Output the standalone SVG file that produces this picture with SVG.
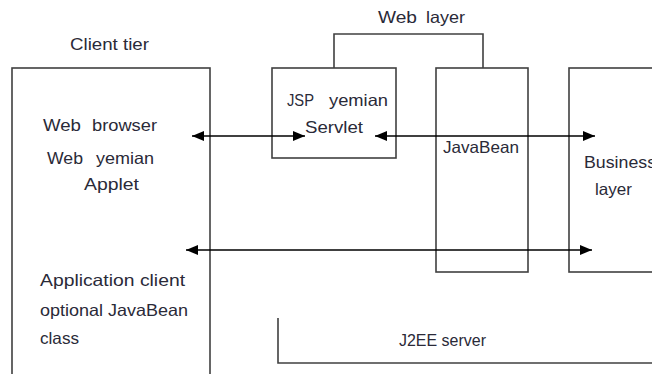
<svg xmlns="http://www.w3.org/2000/svg" width="652" height="374" viewBox="0 0 652 374">
<defs>
<style>
.box{fill:#fff;stroke:#404040;stroke-width:1.6}
.ln{fill:none;stroke:#404040;stroke-width:1.6}
.arr{fill:none;stroke:#000;stroke-width:1.5;marker-start:url(#ah);marker-end:url(#ah)}
text{font-family:"Liberation Sans",Arial,sans-serif;font-size:16.5px;fill:#2a2a38}
</style>
<marker id="ah" viewBox="0 0 12 10" refX="12" refY="5" markerWidth="12" markerHeight="10" markerUnits="userSpaceOnUse" orient="auto-start-reverse">
<path d="M0,0 L12,5 L0,10 Z" fill="#000"/>
</marker>
</defs>
<rect width="652" height="374" fill="#fff"/>
<g id="client-tier">
<rect class="box" x="12" y="68" width="198" height="320"/>
<text x="70" y="50" textLength="79" lengthAdjust="spacingAndGlyphs">Client tier</text>
<text x="43" y="131" textLength="38" lengthAdjust="spacingAndGlyphs">Web</text>
<text x="92" y="131" textLength="65" lengthAdjust="spacingAndGlyphs">browser</text>
<text x="47" y="164" textLength="36" lengthAdjust="spacingAndGlyphs">Web</text>
<text x="96" y="164" textLength="58" lengthAdjust="spacingAndGlyphs">yemian</text>
<text x="84" y="190" textLength="55" lengthAdjust="spacingAndGlyphs">Applet</text>
<text x="40" y="286" textLength="145" lengthAdjust="spacingAndGlyphs">Application client</text>
<text x="40" y="316" textLength="148" lengthAdjust="spacingAndGlyphs">optional JavaBean</text>
<text x="40" y="344" textLength="39" lengthAdjust="spacingAndGlyphs">class</text>
</g>
<g id="web-layer">
<path class="ln" d="M334,68 V34 H483 V68"/>
<text x="378" y="23" textLength="39" lengthAdjust="spacingAndGlyphs">Web</text>
<text x="426" y="23" textLength="39" lengthAdjust="spacingAndGlyphs">layer</text>
</g>
<g id="jsp">
<rect class="box" x="272" y="68" width="124" height="90"/>
<text x="287" y="106" textLength="27" lengthAdjust="spacingAndGlyphs">JSP</text>
<text x="329" y="106" textLength="59" lengthAdjust="spacingAndGlyphs">yemian</text>
<text x="305" y="133" textLength="58" lengthAdjust="spacingAndGlyphs">Servlet</text>
</g>
<g id="javabean">
<rect class="box" x="436" y="68" width="92" height="204"/>
<text x="443" y="153" textLength="76" lengthAdjust="spacingAndGlyphs">JavaBean</text>
</g>
<g id="business-layer">
<rect class="box" x="569" y="68" width="100" height="204"/>
<text x="584" y="168" textLength="72" lengthAdjust="spacingAndGlyphs">Business</text>
<text x="595" y="195" textLength="37" lengthAdjust="spacingAndGlyphs">layer</text>
</g>
<g id="j2ee-server">
<path class="ln" d="M278,318 V363 H660"/>
<text x="399" y="346" textLength="87" lengthAdjust="spacingAndGlyphs">J2EE server</text>
</g>
<g id="connectors">
<line class="arr" x1="192" y1="136" x2="305" y2="136"/>
<line class="arr" x1="375" y1="136" x2="595" y2="136"/>
<line class="arr" x1="186" y1="250" x2="592" y2="250"/>
</g>
</svg>
